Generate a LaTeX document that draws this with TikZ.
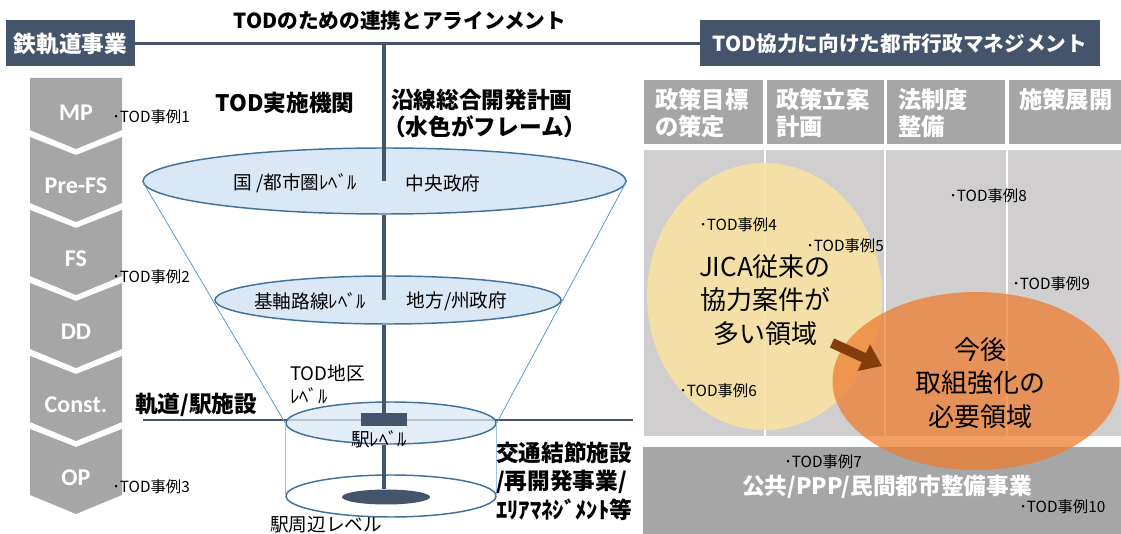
\documentclass[tikz,border=0pt]{standalone}
\usepackage{fontspec}
\setmainfont{Noto Sans CJK JP}
\newfontfamily\calfont{Carlito}
\usetikzlibrary{arrows.meta,shapes.geometric}
\definecolor{slate}{HTML}{44546A}
\definecolor{chev}{HTML}{A6A6A6}
\definecolor{bodygray}{HTML}{D0CECE}
\definecolor{discfill}{HTML}{DAE8F5}
\definecolor{discline}{HTML}{41719C}
\definecolor{funnelc}{HTML}{5B9BD5}
\definecolor{cylside}{HTML}{9DC3E6}
\definecolor{yel}{HTML}{F8E2A2}
\definecolor{ora}{HTML}{ED7D31}
\definecolor{brownc}{HTML}{843C0C}
\newcommand\fsz[2]{\fontsize{#1}{#2}\selectfont}
\begin{document}
\begin{tikzpicture}[x=0.75pt,y=-0.75pt,
  darkbox/.style={fill=slate, text=white, font=\bfseries\fsz{15.5pt}{18pt}, inner sep=0, minimum height=34.5pt},
  big/.style={font=\bfseries\fsz{17pt}{20pt}, inner sep=0},
  lvl/.style={font=\fsz{14pt}{16pt}, inner sep=0},
  ex/.style={font=\fsz{11.5pt}{13pt}, inner sep=0, anchor=west},
  chevtxt/.style={font=\calfont\bfseries\fsz{18pt}{20pt}, text=white, inner sep=0},
  hdr/.style={font=\bfseries\fsz{17.5pt}{20pt}, text=white, inner sep=0, anchor=west},
  mainline/.style={draw=slate, line width=2.6pt},
  pole/.style={draw=slate, line width=2.5pt},
  disc/.style={ellipse, draw=discline, line width=1.1pt, fill=discfill, inner sep=0},
  funnel/.style={draw=funnelc, line width=0.6pt},
  cyl/.style={draw=cylside, line width=1pt},
  bigtxt/.style={font=\fsz{19.5pt}{25pt}, align=center, inner sep=0},
]
\useasboundingbox (0,0) rectangle (1121,534);

% ---------- top bar ----------
\node[darkbox, minimum width=96.75pt, font=\bfseries\fsz{17pt}{20pt}] (rail) at (70.5,43.5) {鉄軌道事業};
\node[darkbox, minimum width=300pt] (mgmt) at (900,43.5) {TOD協力に向けた都市行政マネジメント};
\draw[mainline] (rail.east) -- (mgmt.west);
\node[font=\bfseries\fsz{15.5pt}{18pt}, inner sep=0] (title) at (400,21) {TODのための連携とアラインメント};

% ---------- chevrons ----------
\fill[chev] (30,78) -- (122,78) -- (122,130) -- (76,149) -- (30,130) -- cycle;
\node[chevtxt] (cMP) at (76,113) {MP};
\foreach \t/\lab [count=\i] in {137/Pre-FS,210/FS,283/DD,356/Const.,429/OP}{
  \fill[chev] (30,\t) -- (76,{\t+18}) -- (122,\t) -- (122,{\t+66}) -- (76,{\t+85}) -- (30,{\t+66}) -- cycle;
  \node[chevtxt] (c\i) at (76,{\t+49}) {\lab};
}
\node[ex] (ex1) at (112,117) {･TOD事例1};
\node[ex] (ex2) at (112,277) {･TOD事例2};
\node[ex] (ex3) at (112,487) {･TOD事例3};

% ---------- station track line ----------
\coordinate (trackL) at (143,420);
\coordinate (trackR) at (633,420);
\draw[draw=slate, line width=2.2pt] (trackL) -- (trackR);
\node[big, anchor=west] (track) at (135,405) {軌道/駅施設};

% ---------- funnel ----------
\node[disc, minimum width=362.25pt, minimum height=49.5pt] (e1) at (384.5,181) {};
\node[disc, minimum width=157.5pt, minimum height=31.5pt, fill opacity=0.75, draw opacity=1] (e3) at (391,423) {};
\node[disc, fill=white, minimum width=157.5pt, minimum height=31.5pt] (e4) at (391,496) {};
\draw[funnel] (e1.west) -- (e3.west);
\draw[funnel] (e1.east) -- (e3.east);
\draw[cyl] (e3.west) -- (e4.west);
\draw[cyl] (e3.east) -- (e4.east);
\node[disc, minimum width=259.5pt, minimum height=36pt] (e2) at (388,300) {};
\node[ellipse, fill=slate, inner sep=0, minimum width=66pt, minimum height=11.25pt] (hub) at (386,497) {};
\node[fill=slate, inner sep=0, minimum width=34.5pt, minimum height=9.75pt] (bar) at (384,420) {};

\coordinate (ptop) at (384,43.5);
\draw[pole] (ptop) -- (ptop |- e1.center);
\draw[pole] (ptop |- e1.south) -- (ptop |- e2.center);
\draw[pole] (ptop |- e2.south) -- (bar.north);
\draw[pole] (ptop |- e3.south) -- (ptop |- hub.north);

\node[lvl] (n1) at (295,183) {国 /都市圏ﾚﾍﾞﾙ};
\node[lvl] (n2) at (443,183) {中央政府};
\node[lvl] (n3) at (310,301) {基軸路線ﾚﾍﾞﾙ};
\node[lvl] (n4) at (457,301) {地方/州政府};
\node[lvl, anchor=west] (n5) at (290,373) {TOD地区};
\node[lvl, anchor=west] (n6) at (290,396) {ﾚﾍﾞﾙ};
\node[lvl] (n7) at (379,439) {駅ﾚﾍﾞﾙ};
\node[lvl] (n8) at (326,525) {駅周辺レベル};

\node[big] (agency) at (285,103) {TOD実施機関};
\node[big, anchor=west] (plan1) at (391,100) {沿線総合開発計画};
\node[big, anchor=west] (plan2) at (383,127) {（水色がフレーム）};

\node[big, anchor=west] (node1) at (496,453) {交通結節施設};
\node[big, anchor=west] (node2) at (496,482) {/再開発事業/};
\node[big, anchor=west] (node3) at (496,510) {ｴﾘｱﾏﾈｼﾞﾒﾝﾄ等};

% ---------- right grid ----------
\fill[chev] (644,80) rectangle (763,144);
\fill[chev] (767,80) rectangle (884,144);
\fill[chev] (887,80) rectangle (1005,144);
\fill[chev] (1009,80) rectangle (1121,144);
\node[hdr] (h1a) at (655,100) {政策目標};
\node[hdr] (h1b) at (655,127) {の策定};
\node[hdr] (h2a) at (776,100) {政策立案};
\node[hdr] (h2b) at (776,127) {計画};
\node[hdr] (h3a) at (898,100) {法制度};
\node[hdr] (h3b) at (898,127) {整備};
\node[hdr] (h4a) at (1019,100) {施策展開};

\fill[bodygray] (644,150) rectangle (1121,436);
\draw[white, line width=1.5pt] (765,150) -- (765,436);
\draw[white, line width=1.5pt] (885,150) -- (885,436);
\draw[white, line width=1.5pt] (1007,150) -- (1007,436);
\fill[chev] (643,447) rectangle (1121,534);

\node[ellipse, fill=yel, fill opacity=0.9, inner sep=0, minimum width=176.25pt, minimum height=200.25pt] (jica) at (764.5,296.5) {};
\node[ellipse, fill=ora, fill opacity=0.75, inner sep=0, minimum width=215.25pt, minimum height=133.5pt] (future) at (976,381) {};
\draw[brownc, line width=7.5pt, -{Triangle[length=15pt,width=21pt]}] (832,343) -- (882,366);

\node[bigtxt] (t1) at (765,300) {JICA従来の\\協力案件が\\多い領域};
\node[bigtxt] (t2) at (980,383) {今後\\取組強化の\\必要領域};
\node[font=\bfseries\fsz{17pt}{20pt}, text=white, inner sep=0] (pub) at (887,487) {公共/PPP/民間都市整備事業};

\node[ex] (ex4) at (699,225) {･TOD事例4};
\node[ex] (ex5) at (806,246) {･TOD事例5};
\node[ex] (ex6) at (679,391) {･TOD事例6};
\node[ex] (ex7) at (784,462) {･TOD事例7};
\node[ex] (ex8) at (949,196) {･TOD事例8};
\node[ex] (ex9) at (1012,284) {･TOD事例9};
\node[ex] (ex10) at (1019,507) {･TOD事例10};
\end{tikzpicture}
\end{document}
